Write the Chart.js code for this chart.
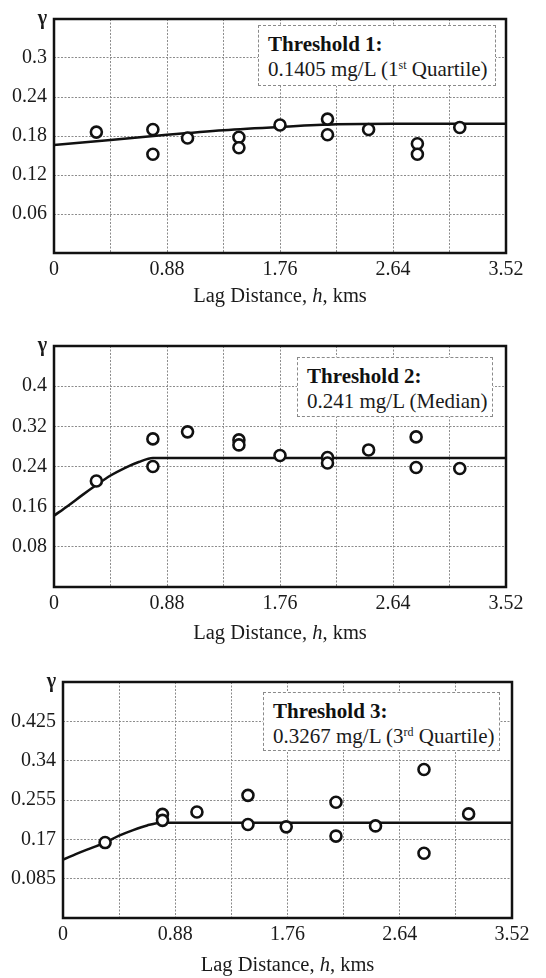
<!DOCTYPE html>
<html lang="en">
<head>
<meta charset="UTF-8">
<title>Indicator variograms</title>
<script src="https://cdn.jsdelivr.net/npm/chart.js"></script>
<style>
  body { margin: 0; background: #fff; width: 546px; height: 978px; position: relative; overflow: hidden; font-family: "Liberation Serif", serif; }
  .panel { position: absolute; left: 0; width: 546px; }
  .note { position: absolute; background: #fff; border: 1px dashed #8a8a8a; color: #1a1a1a; font-size: 21px; line-height: 25px; padding: 6px 0 0 9px; box-sizing: border-box; white-space: nowrap; }
  .note b { color: #111; }
  .note sup { font-size: 12px; vertical-align: 7px; line-height: 0; }
</style>
</head>
<body>
  <div class="panel" style="top:0;height:308px"><canvas id="c1"></canvas></div>
  <div class="panel" style="top:308px;height:337px"><canvas id="c2"></canvas></div>
  <div class="panel" style="top:645px;height:332px"><canvas id="c3"></canvas></div>

  <div class="note" style="left:258px;top:25px;width:238px;height:61px"><b>Threshold 1:</b><br>0.1405 mg/L (1<sup>st</sup> Quartile)</div>
  <div class="note" style="left:297px;top:357px;width:196px;height:60px"><b>Threshold 2:</b><br>0.241 mg/L (Median)</div>
  <div class="note" style="left:263px;top:692px;width:237px;height:59px"><b>Threshold 3:</b><br>0.3267 mg/L (3<sup>rd</sup> Quartile)</div>

<script>
  // x axis: lag distance (km), labels every second grid line
  const lagTicks = ['0', '', '0.88', '', '1.76', '', '2.64', '', '3.52'];

  // Threshold 1 (1st quartile)
  const lag1 = [0.33, 0.77, 0.77, 1.04, 1.44, 1.44, 1.76, 2.13, 2.13, 2.45, 2.83, 2.83, 3.16];
  const gamma1 = [0.186, 0.190, 0.152, 0.177, 0.178, 0.162, 0.197, 0.206, 0.182, 0.190, 0.168, 0.152, 0.193];
  const modelLag1 = [0, 0.44, 0.88, 1.32, 1.76, 2.2, 2.64, 3.08, 3.52];
  const model1 = [0.166, 0.174, 0.182, 0.189, 0.194, 0.198, 0.199, 0.199, 0.199];
  const yTicks1 = ['', '0.06', '0.12', '0.18', '0.24', '0.3', 'γ'];

  // Threshold 2 (median)
  const lag2 = [0.33, 0.77, 0.77, 1.04, 1.44, 1.44, 1.76, 2.13, 2.13, 2.45, 2.82, 2.82, 3.16];
  const gamma2 = [0.211, 0.295, 0.240, 0.309, 0.293, 0.283, 0.262, 0.258, 0.247, 0.273, 0.299, 0.238, 0.236];
  const modelLag2 = [0, 0.11, 0.22, 0.33, 0.44, 0.55, 0.66, 0.77, 3.52];
  const model2 = [0.142, 0.162, 0.183, 0.203, 0.222, 0.237, 0.249, 0.257, 0.257];
  const yTicks2 = ['', '0.08', '0.16', '0.24', '0.32', '0.4', 'γ'];

  // Threshold 3 (3rd quartile)
  const lag3 = [0.33, 0.78, 0.78, 1.05, 1.45, 1.45, 1.75, 2.14, 2.14, 2.45, 2.83, 2.83, 3.18];
  const gamma3 = [0.163, 0.224, 0.211, 0.229, 0.265, 0.202, 0.197, 0.250, 0.177, 0.199, 0.321, 0.140, 0.225];
  const modelLag3 = [0, 0.11, 0.22, 0.33, 0.44, 0.55, 0.66, 0.77, 3.52];
  const model3 = [0.126, 0.139, 0.151, 0.163, 0.178, 0.190, 0.200, 0.206, 0.206];
  const yTicks3 = ['', '0.085', '0.17', '0.255', '0.34', '0.425', 'γ'];

  const font = { family: '"Liberation Serif", serif', size: 20 };
  const gammaFont = { family: '"Liberation Serif", serif', size: 20, weight: 'bold' };

  // black frame round the plot area
  const frame = {
    id: 'frame',
    beforeDatasetsDraw(chart) {
      const { ctx, chartArea: a } = chart;
      ctx.save();
      ctx.strokeStyle = '#111';
      ctx.lineWidth = 2.5;
      ctx.strokeRect(a.left, a.top, a.right - a.left, a.bottom - a.top);
      ctx.restore();
    }
  };

  // x title with italic h
  const lagTitle = {
    id: 'lagTitle',
    afterDraw(chart) {
      const { ctx, chartArea: a } = chart;
      const parts = [['Lag Distance, ', ''], ['h', 'italic '], [', kms', '']];
      ctx.save();
      ctx.fillStyle = '#1a1a1a';
      ctx.textBaseline = 'middle';
      let w = 0;
      parts.forEach(p => { ctx.font = p[1] + '20.5px "Liberation Serif"'; w += ctx.measureText(p[0]).width; });
      let x = (a.left + a.right) / 2 - w / 2;
      const y = chart.scales.x.bottom - 11;
      parts.forEach(p => {
        ctx.font = p[1] + '20.5px "Liberation Serif"';
        ctx.fillText(p[0], x, y);
        x += ctx.measureText(p[0]).width;
      });
      ctx.restore();
    }
  };

  function drawVariogram(id, lag, gamma, modelLag, model, yMax, yStep, yTicks, yWidth, padTop, padRight, xHeight) {
    new Chart(document.getElementById(id), {
      type: 'scatter',
      data: {
        datasets: [
          {
            data: lag.map((x, i) => ({ x, y: gamma[i] })),
            pointRadius: 5.5,
            pointBorderWidth: 2.6,
            borderColor: '#111',
            backgroundColor: '#fff',
            order: 0
          },
          {
            data: modelLag.map((x, i) => ({ x, y: model[i] })),
            showLine: true,
            pointRadius: 0,
            borderColor: '#111',
            borderWidth: 2.5,
            cubicInterpolationMode: 'monotone',
            order: 1
          }
        ]
      },
      options: {
        responsive: true,
        maintainAspectRatio: false,
        animation: false,
        layout: { padding: { top: padTop, right: padRight, left: 0, bottom: 0 } },
        plugins: { legend: { display: false }, tooltip: { enabled: false } },
        scales: {
          x: {
            min: 0, max: 3.52,
            afterFit: s => { s.height = xHeight; },
            ticks: { stepSize: 0.44, autoSkip: false, maxRotation: 0, padding: 5, color: '#1a1a1a', font,
                     callback: (v, i) => lagTicks[i] },
            grid: { color: '#8c8c8c', lineWidth: 1, drawTicks: false },
            border: { display: false, dash: [2, 1.5] }
          },
          y: {
            min: 0, max: yMax,
            afterFit: s => { s.width = yWidth; },
            ticks: { stepSize: yStep, padding: 7, color: '#1a1a1a',
                     font: c => (c.index === yTicks.length - 1 ? gammaFont : font),
                     callback: (v, i) => yTicks[i] },
            grid: { color: '#8c8c8c', lineWidth: 1, drawTicks: false },
            border: { display: false, dash: [2, 1.5] }
          }
        }
      },
      plugins: [frame, lagTitle]
    });
  }

  drawVariogram('c1', lag1, gamma1, modelLag1, model1, 0.36, 0.06, yTicks1, 54, 14, 40, 55);
  drawVariogram('c2', lag2, gamma2, modelLag2, model2, 0.48, 0.08, yTicks2, 54, 38, 40, 58);
  drawVariogram('c3', lag3, gamma3, modelLag3, model3, 0.51, 0.085, yTicks3, 63, 37, 34, 59);
</script>
</body>
</html>
